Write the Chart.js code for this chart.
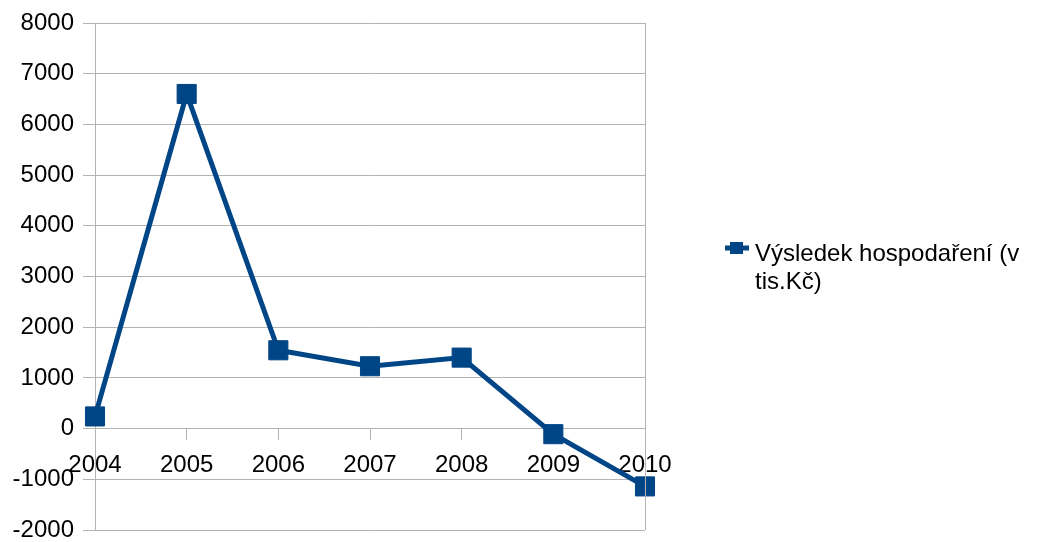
<!doctype html>
<html lang="cs">
<head>
  <meta charset="UTF-8" />
  <script src="https://cdn.jsdelivr.net/npm/chart.js@4/dist/chart.umd.min.js"></script>
  <style>
    html, body { margin: 0; padding: 0; background: #fff; }
    .chart-wrap { position: relative; width: 1042px; height: 542px; }
  </style>
</head>
<body>
  <div class="chart-wrap">
    <canvas id="lineChart" width="1042" height="542"></canvas>
  </div>
  <script>
    // data
    const years = ['2004', '2005', '2006', '2007', '2008', '2009', '2010'];
    const vysledek = [240, 6600, 1545, 1230, 1400, -110, -1140];
    const seriesName = ['Výsledek hospodaření (v', 'tis.Kč)'];
    const yMin = -2000, yMax = 8000, yStep = 1000;

    const blue = '#004586';
    const gridGray = '#b3b3b3';
    const font = "'Liberation Sans', Arial, sans-serif";

    // right border of the plot + wrapped legend on the right
    const frameAndLegend = {
      id: 'frameAndLegend',
      afterDraw: function (chart) {
        const ctx = chart.ctx;
        const a = chart.chartArea;
        ctx.save();
        ctx.strokeStyle = gridGray;
        ctx.lineWidth = 1;
        ctx.beginPath();
        ctx.moveTo(Math.round(a.right) + 0.5, a.top);
        ctx.lineTo(Math.round(a.right) + 0.5, a.bottom);
        ctx.stroke();

        // legend marker
        const ly = 248;
        ctx.strokeStyle = blue;
        ctx.lineWidth = 5;
        ctx.beginPath();
        ctx.moveTo(725, ly);
        ctx.lineTo(749, ly);
        ctx.stroke();
        ctx.fillStyle = blue;
        ctx.fillRect(730, ly - 6, 13, 12);

        ctx.fillStyle = '#000';
        ctx.font = '24px ' + font;
        ctx.textBaseline = 'alphabetic';
        ctx.textAlign = 'left';
        seriesName.forEach(function (t, i) {
          ctx.fillText(t, 755, 261 + i * 28);
        });
        ctx.restore();
      }
    };

    const ctx = document.getElementById('lineChart').getContext('2d');
    new Chart(ctx, {
      type: 'line',
      data: {
        labels: years,
        datasets: [{
          label: seriesName.join(' '),
          data: vysledek,
          borderColor: blue,
          backgroundColor: blue,
          borderWidth: 5,
          pointStyle: 'rect',
          pointRadius: 13.5,
          pointBorderWidth: 1,
          pointHoverRadius: 13.5,
          tension: 0,
          clip: false
        }]
      },
      options: {
        responsive: false,
        animation: false,
        layout: {
          autoPadding: false,
          padding: { left: 0, top: 23, right: 397, bottom: 12 }
        },
        plugins: {
          legend: { display: false },
          tooltip: { enabled: false }
        },
        scales: {
          x: {
            position: { y: 0 },
            offset: false,
            grid: {
              display: true,
              drawOnChartArea: false,
              drawTicks: true,
              tickLength: 11,
              color: gridGray
            },
            border: { display: false },
            ticks: {
              color: '#000',
              font: { family: font, size: 24 },
              padding: 11,
              maxRotation: 0,
              autoSkip: false
            }
          },
          y: {
            min: yMin,
            max: yMax,
            afterFit: function (scale) {
              scale.width = 95;
              scale.paddingTop = 0;
              scale.paddingBottom = 0;
            },
            grid: {
              color: gridGray,
              tickLength: 12,
              drawTicks: true
            },
            border: { display: true, color: gridGray },
            ticks: {
              stepSize: yStep,
              color: '#000',
              font: { family: font, size: 24 },
              padding: 9,
              callback: function (v) { return String(v); }
            }
          }
        }
      },
      plugins: [frameAndLegend]
    });
  </script>
</body>
</html>
